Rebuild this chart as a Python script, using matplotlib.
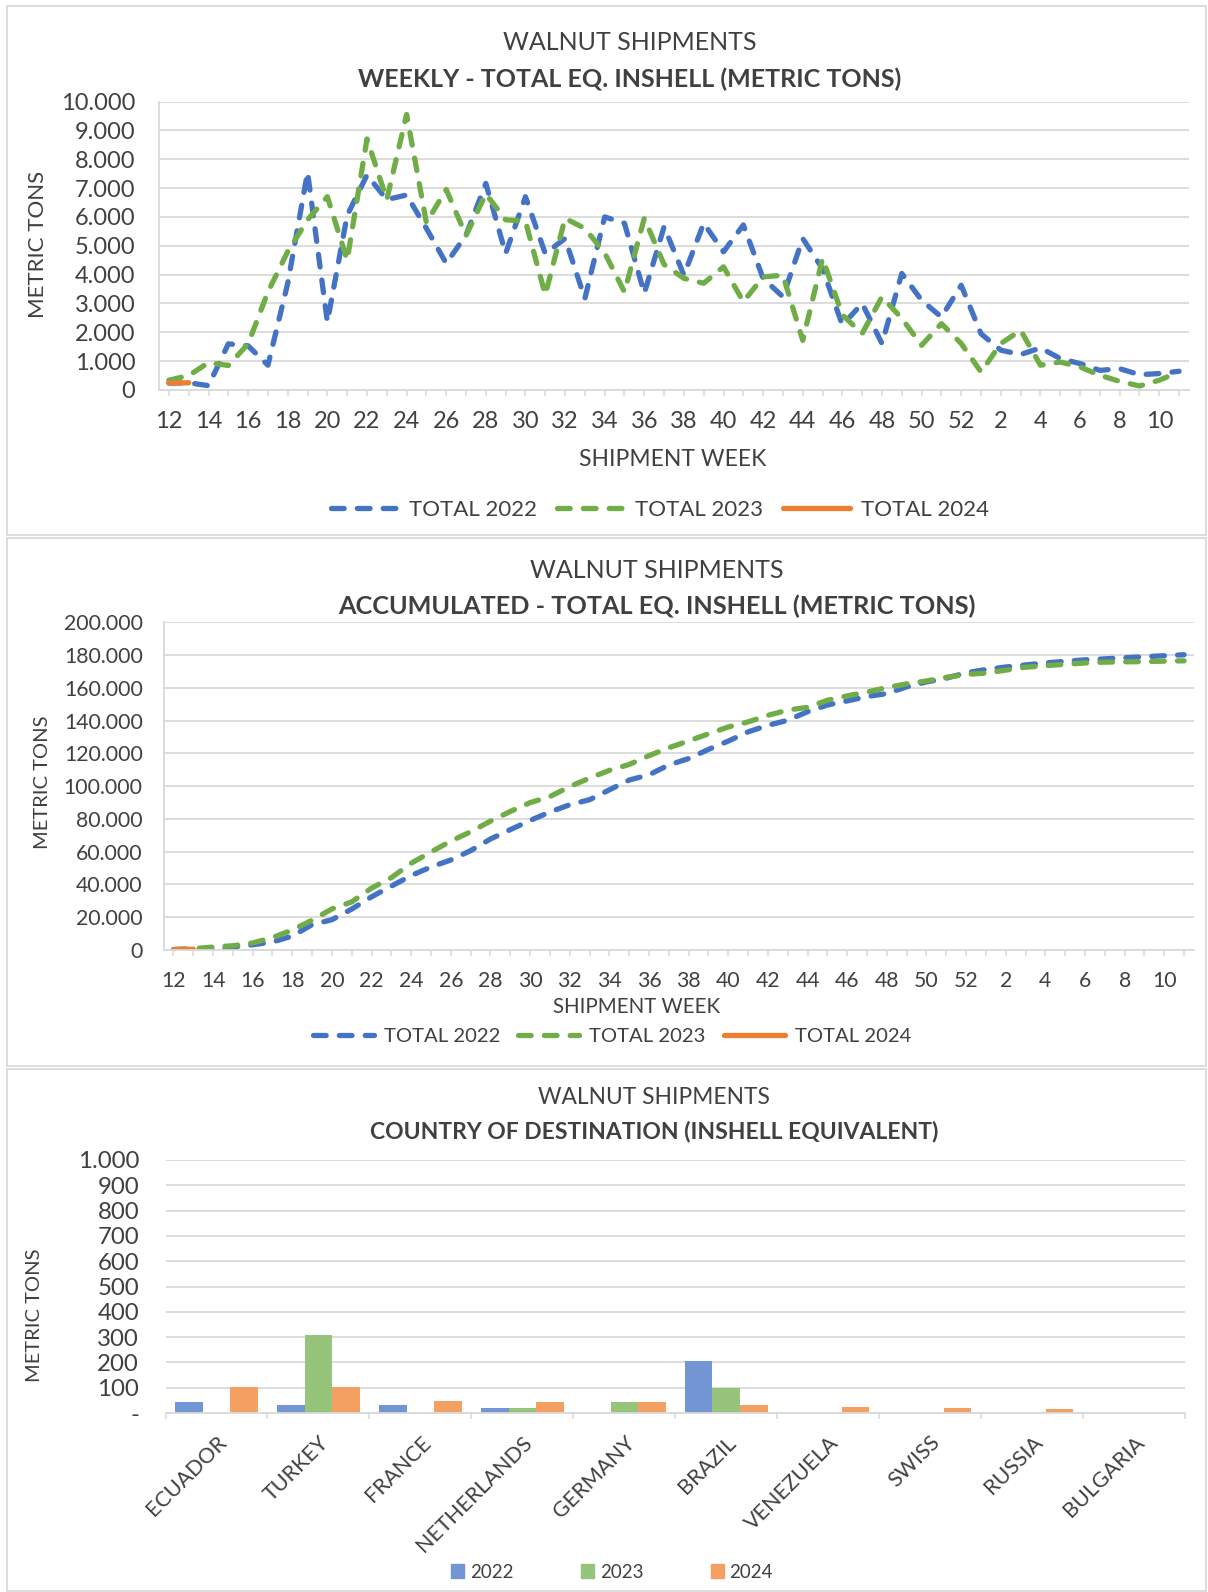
import matplotlib
matplotlib.use('Agg')
import matplotlib.pyplot as plt
import numpy as np
from matplotlib.ticker import FuncFormatter
from matplotlib.lines import Line2D
from matplotlib.patches import Rectangle, Patch

plt.rcParams['font.family'] = ['Lato', 'DejaVu Sans']

# ---- data ----
weeks = [12, 13, 14, 15, 16, 17, 18, 19, 20, 21, 22, 23, 24, 25, 26, 27, 28, 29, 30,
         31, 32, 33, 34, 35, 36, 37, 38, 39, 40, 41, 42, 43, 44, 45, 46, 47, 48, 49,
         50, 51, 52, 1, 2, 3, 4, 5, 6, 7, 8, 9, 10, 11]

weekly_2022 = [240, 250, 150, 1600, 1530, 860, 3700, 7550, 2360, 6050, 7450, 6600, 6760,
               5600, 4390, 5370, 7160, 4730, 6700, 4730, 5250, 3170, 6000, 5780, 3350,
               5660, 3980, 5780, 4790, 5720, 3870, 3230, 5250, 4200, 2250, 3000, 1610,
               4040, 3110, 2530, 3630, 1950, 1380, 1230, 1460, 1090, 915, 680, 740, 530,
               570, 650]
weekly_2023 = [340, 500, 950, 850, 1600, 3400, 4800, 5900, 6700, 4500, 8700, 6600, 9550,
               5800, 6950, 5350, 6800, 5900, 5850, 3300, 5950, 5600, 4750, 3400, 5950,
               4350, 3870, 3700, 4270, 3060, 3920, 3980, 1720, 4560, 2600, 1960, 3230,
               2480, 1550, 2300, 1610, 625, 1610, 2070, 860, 970, 800, 510, 300, 140,
               340, 625]
weekly_2024 = [240, 250]

accum_2022 = [240, 490, 640, 1800, 3200, 4900, 8500, 15500, 18500, 25000, 32500, 39000,
              45500, 50700, 55000, 60700, 67800, 73500, 79100, 84300, 88700, 91800,
              97800, 103800, 107000, 113000, 116900, 122500, 127600, 133200, 137200,
              140300, 145500, 149600, 152100, 154800, 156600, 160700, 163700, 166000,
              169300, 171300, 172800, 174100, 175300, 176300, 177200, 177800, 178500,
              179100, 179700, 180300]
accum_2023 = [300, 800, 1800, 2600, 4300, 7600, 12200, 18200, 25100, 29400, 37800, 44200,
              53000, 59900, 66500, 72200, 78700, 84600, 90000, 93700, 99800, 105000,
              109700, 113300, 118700, 123500, 127700, 132000, 136200, 139300, 143300,
              146500, 148200, 152500, 155200, 157500, 160300, 162500, 164300, 166500,
              168300, 169100, 170900, 172700, 173600, 174500, 175300, 175800, 176000,
              176100, 176400, 176600]
accum_2024 = [240, 490]

countries = ['ECUADOR', 'TURKEY', 'FRANCE', 'NETHERLANDS', 'GERMANY', 'BRAZIL',
             'VENEZUELA', 'SWISS', 'RUSSIA', 'BULGARIA']
dest_2022 = [42, 33, 33, 20, 0, 207, 0, 0, 0, 0]
dest_2023 = [0, 310, 0, 20, 42, 98, 0, 0, 0, 0]
dest_2024 = [104, 102, 46, 42, 42, 30, 22, 18, 15, 0]

# ---- style ----
BLUE, GREEN, ORANGE = '#4472C4', '#70AD47', '#ED7D31'
BAR_BLUE, BAR_GREEN, BAR_ORANGE = '#7196D3', '#95C47A', '#F3A062'
TXT = '#404040'
GRID = '#D9D9D9'
DASH = (0, (2.4, 2.5))
LW = 3.8

W, H = 1208, 1592
fig = plt.figure(figsize=(W / 100, H / 100), dpi=100)


def px_axes(l, t, r, b):
    return fig.add_axes([l / W, 1 - b / H, (r - l) / W, (b - t) / H])


def ftext(x, y, s, **kw):
    fig.text(x / W, 1 - y / H, s, ha='center', va='center', color=TXT, **kw)


def dotted_thousands(v, pos):
    return f'{v:,.0f}'.replace(',', '.')


def style_line_axes(ax, ymax, ystep, fs, ypad, xpad):
    x = np.arange(len(weeks))
    ax.set_xlim(-0.5, len(weeks) - 0.5)
    ax.set_ylim(0, ymax)
    ax.set_yticks(np.arange(0, ymax + 1, ystep))
    ax.yaxis.set_major_formatter(FuncFormatter(dotted_thousands))
    ax.set_xticks(x)
    ax.set_xticklabels([str(w) if i % 2 == 0 else '' for i, w in enumerate(weeks)])
    ax.yaxis.grid(True, color=GRID, lw=1.3)
    ax.set_axisbelow(True)
    for s in ['top', 'right']:
        ax.spines[s].set_visible(False)
    for s in ['left', 'bottom']:
        ax.spines[s].set_color(GRID)
        ax.spines[s].set_linewidth(1.3)
    ax.tick_params(axis='y', length=0, labelsize=fs, labelcolor=TXT, pad=ypad)
    ax.tick_params(axis='x', length=4, width=1.1, color=GRID, labelsize=fs,
                   labelcolor=TXT, pad=xpad)
    return x


def line_legend(cx, cy, fs):
    handles = [Line2D([], [], color=BLUE, lw=LW, ls=DASH, dash_capstyle='round'),
               Line2D([], [], color=GREEN, lw=LW, ls=DASH, dash_capstyle='round'),
               Line2D([], [], color=ORANGE, lw=LW, solid_capstyle='round')]
    fig.legend(handles, ['TOTAL 2022', 'TOTAL 2023', 'TOTAL 2024'], loc='center',
               bbox_to_anchor=(cx / W, 1 - cy / H), ncol=3, frameon=False,
               fontsize=fs, handlelength=3.0, handletextpad=0.5, columnspacing=0.9,
               labelcolor=TXT)


# ---- panel borders ----
for top, bot in [(6, 535), (538, 1066), (1069, 1591)]:
    fig.add_artist(Rectangle((7 / W, 1 - bot / H), (1206 - 7) / W, (bot - top) / H,
                             transform=fig.transFigure, fill=False,
                             edgecolor=GRID, lw=1.3))

# ---- weekly ----
ax1 = px_axes(159, 101.5, 1189, 390)
x = style_line_axes(ax1, 10000, 1000, 17, 17, 11)
ax1.plot(x, weekly_2022, color=BLUE, lw=LW, ls=DASH, dash_capstyle='round')
ax1.plot(x, weekly_2023, color=GREEN, lw=LW, ls=DASH, dash_capstyle='round')
ax1.plot(x[:len(weekly_2024)], weekly_2024, color=ORANGE, lw=LW, solid_capstyle='round')
ftext(630, 43, 'WALNUT SHIPMENTS', fontsize=18)
ftext(630, 79, 'WEEKLY - TOTAL EQ. INSHELL (METRIC TONS)', fontsize=18, fontweight='bold')
ftext(38, 244, 'METRIC TONS', fontsize=16, rotation=90)
ftext(673, 460, 'SHIPMENT WEEK', fontsize=16.5)
line_legend(660, 510, 16)

# ---- accumulated ----
ax2 = px_axes(163.5, 622.5, 1194, 950)
x = style_line_axes(ax2, 200000, 20000, 15.3, 15, 11)
ax2.plot(x, accum_2022, color=BLUE, lw=LW, ls=DASH, dash_capstyle='round')
ax2.plot(x, accum_2023, color=GREEN, lw=LW, ls=DASH, dash_capstyle='round')
ax2.plot(x[:len(accum_2024)], accum_2024, color=ORANGE, lw=LW, solid_capstyle='round')
ftext(657, 570, 'WALNUT SHIPMENTS', fontsize=18)
ftext(657, 606, 'ACCUMULATED - TOTAL EQ. INSHELL (METRIC TONS)', fontsize=18.2,
      fontweight='bold')
ftext(43, 782, 'METRIC TONS', fontsize=14.5, rotation=90)
ftext(637, 1007, 'SHIPMENT WEEK', fontsize=14.8)
line_legend(612, 1036, 14.6)

# ---- country of destination ----
ax3 = px_axes(165.5, 1160, 1185, 1413)
c = np.arange(len(countries))
bw = 0.27
ax3.bar(c - bw, dest_2022, bw, color=BAR_BLUE)
ax3.bar(c, dest_2023, bw, color=BAR_GREEN)
ax3.bar(c + bw, dest_2024, bw, color=BAR_ORANGE)
ax3.set_xlim(-0.5, len(countries) - 0.5)
ax3.set_ylim(0, 1000)
ax3.set_yticks(np.arange(0, 1001, 100))
ax3.yaxis.set_major_formatter(FuncFormatter(lambda v, p: '-' if v == 0 else dotted_thousands(v, p)))
ax3.yaxis.grid(True, color=GRID, lw=1.3)
ax3.set_axisbelow(True)
for s in ['top', 'right', 'left']:
    ax3.spines[s].set_visible(False)
ax3.spines['bottom'].set_color(GRID)
ax3.spines['bottom'].set_linewidth(1.3)
ax3.set_xticks(c)
ax3.set_xticklabels(countries, rotation=45, ha='right', rotation_mode='anchor')
ax3.set_xticks(np.arange(-0.5, len(countries)), minor=True)
ax3.tick_params(axis='x', which='major', length=0, labelsize=15.5, labelcolor=TXT, pad=14)
ax3.tick_params(axis='x', which='minor', length=4, width=1.1, color=GRID)
ax3.tick_params(axis='y', length=0, labelsize=17.3, labelcolor=TXT, pad=19)
ftext(654, 1097, 'WALNUT SHIPMENTS', fontsize=16.4)
ftext(654, 1131, 'COUNTRY OF DESTINATION (INSHELL EQUIVALENT)', fontsize=16.5,
      fontweight='bold')
ftext(34, 1315, 'METRIC TONS', fontsize=14.5, rotation=90)
fig.legend([Patch(color=BAR_BLUE), Patch(color=BAR_GREEN), Patch(color=BAR_ORANGE)],
           ['2022', '2023', '2024'], loc='center', bbox_to_anchor=(612 / W, 1 - 1572 / H),
           ncol=3, frameon=False, fontsize=13.5, handlelength=0.7, handleheight=0.7,
           handletextpad=0.3, columnspacing=3.6, labelcolor=TXT)

fig.savefig('out.png', dpi=100)
